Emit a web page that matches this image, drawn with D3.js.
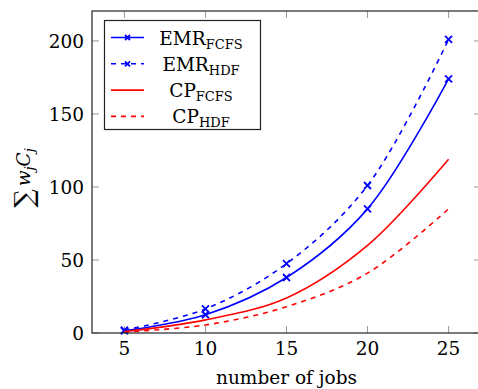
<!DOCTYPE html>
<html>
<head>
<meta charset="utf-8">
<script src="https://cdn.jsdelivr.net/npm/d3@7"></script>
<style>
  body { margin: 0; background: white; }
  svg { font-family: "DejaVu Serif", serif; }
</style>
</head>
<body>
<svg id="chart" width="478" height="389"></svg>
<script>
// data
const jobs = [5, 10, 15, 20, 25]
const emrFcfs = [1.5, 12.5, 38, 85, 174]
const emrHdf = [2, 16.5, 47.5, 101, 201]
const cpFcfs = [1, 9, 24, 60, 119]
const cpHdf = [0.7, 5.5, 18, 41, 85]
const xTicks = [5, 10, 15, 20, 25]
const yTicks = [0, 50, 100, 150, 200]

const margin = { left: 92, top: 11, bottom: 333, right: 481 }

const svg = d3.select("#chart")

const x = d3.scaleLinear().domain([3, 27]).range([margin.left, margin.right])
const y = d3.scaleLinear().domain([0, 220.5]).range([margin.bottom, margin.top])

const series = [
    { main: "EMR", sub: "FCFS", values: emrFcfs, color: "#0000ff", dash: null, mark: true },
    { main: "EMR", sub: "HDF", values: emrHdf, color: "#0000ff", dash: "5,5", mark: true },
    { main: "CP", sub: "FCFS", values: cpFcfs, color: "#ff0000", dash: null, mark: false },
    { main: "CP", sub: "HDF", values: cpHdf, color: "#ff0000", dash: "5,5", mark: false }
]

const fs = "18.5px"
const subFs = "13px"

// ticks on all four sides, pointing inwards
const tickLen = 7
const ticks = svg.append("g").attr("stroke", "#999").attr("stroke-width", 1)
xTicks.forEach(t => {
    ticks.append("line").attr("x1", x(t)).attr("x2", x(t)).attr("y1", margin.bottom).attr("y2", margin.bottom - tickLen)
    ticks.append("line").attr("x1", x(t)).attr("x2", x(t)).attr("y1", margin.top).attr("y2", margin.top + tickLen)
})
yTicks.forEach(t => {
    ticks.append("line").attr("x1", margin.left).attr("x2", margin.left + tickLen).attr("y1", y(t)).attr("y2", y(t))
    ticks.append("line").attr("x1", margin.right).attr("x2", margin.right - tickLen).attr("y1", y(t)).attr("y2", y(t))
})

// tick labels
svg.append("g").selectAll("text")
    .data(xTicks)
    .join("text")
    .attr("x", d => x(d))
    .attr("y", 355)
    .attr("text-anchor", "middle")
    .style("font-size", fs)
    .text(d => d)

svg.append("g").selectAll("text")
    .data(yTicks)
    .join("text")
    .attr("x", 84)
    .attr("y", d => y(d) + 7)
    .attr("text-anchor", "end")
    .style("font-size", fs)
    .text(d => d)

// lines
const line = d3.line()
    .x((d, i) => x(jobs[i]))
    .y(d => y(d))
    .curve(d3.curveCatmullRom.alpha(0.5))

const cross = "M-3.5,-3.5L3.5,3.5M-3.5,3.5L3.5,-3.5"

const plot = svg.append("g")
series.forEach(s => {
    plot.append("path")
        .attr("d", line(s.values))
        .attr("fill", "none")
        .attr("stroke", s.color)
        .attr("stroke-width", 1.6)
        .attr("stroke-dasharray", s.dash)
    if (s.mark) {
        plot.append("g").selectAll("path")
            .data(s.values)
            .join("path")
            .attr("transform", (d, i) => `translate(${x(jobs[i])},${y(d)})`)
            .attr("d", cross)
            .attr("stroke", s.color)
            .attr("stroke-width", 1.8)
    }
})

// axis box
svg.append("rect")
    .attr("x", margin.left)
    .attr("y", margin.top)
    .attr("width", margin.right - margin.left)
    .attr("height", margin.bottom - margin.top)
    .attr("fill", "none")
    .attr("stroke", "#222")
    .attr("stroke-width", 1.2)

// legend
const legend = svg.append("g")
legend.append("rect")
    .attr("x", 104.5).attr("y", 20.5)
    .attr("width", 156).attr("height", 109)
    .attr("fill", "white")
    .attr("stroke", "#222")
    .attr("stroke-width", 1.2)

series.forEach((s, i) => {
    const ry = 37.5 + i * 26.3
    legend.append("line")
        .attr("x1", 111).attr("x2", 144)
        .attr("y1", ry).attr("y2", ry)
        .attr("stroke", s.color)
        .attr("stroke-width", 1.6)
        .attr("stroke-dasharray", s.dash)
    if (s.mark) {
        legend.append("path")
            .attr("transform", `translate(127.5,${ry})`)
            .attr("d", "M-2.5,-2.5L2.5,2.5M-2.5,2.5L2.5,-2.5")
            .attr("stroke", s.color)
            .attr("stroke-width", 1.8)
    }
    const t = legend.append("text")
        .attr("x", 201)
        .attr("y", ry + 7)
        .attr("text-anchor", "middle")
        .style("font-size", fs)
    t.append("tspan").text(s.main)
    t.append("tspan")
        .attr("dy", 4)
        .style("font-size", subFs)
        .text(s.sub)
})

// axis labels
svg.append("text")
    .attr("x", (x(5) + x(25)) / 2)
    .attr("y", 384)
    .attr("text-anchor", "middle")
    .style("font-size", fs)
    .text("number of jobs")

const yl = svg.append("text")
    .attr("transform", "translate(30,178) rotate(-90)")
    .attr("text-anchor", "middle")
    .style("font-size", fs)
yl.append("tspan").style("font-size", "26px").attr("dy", 3).text("∑")
yl.append("tspan").attr("dx", 3).attr("dy", -3).style("font-style", "italic").text("w")
yl.append("tspan").attr("dy", 4).style("font-size", subFs).style("font-style", "italic").text("j")
yl.append("tspan").attr("dy", -4).style("font-style", "italic").text("C")
yl.append("tspan").attr("dy", 4).style("font-size", subFs).style("font-style", "italic").text("j")
</script>
</body>
</html>
